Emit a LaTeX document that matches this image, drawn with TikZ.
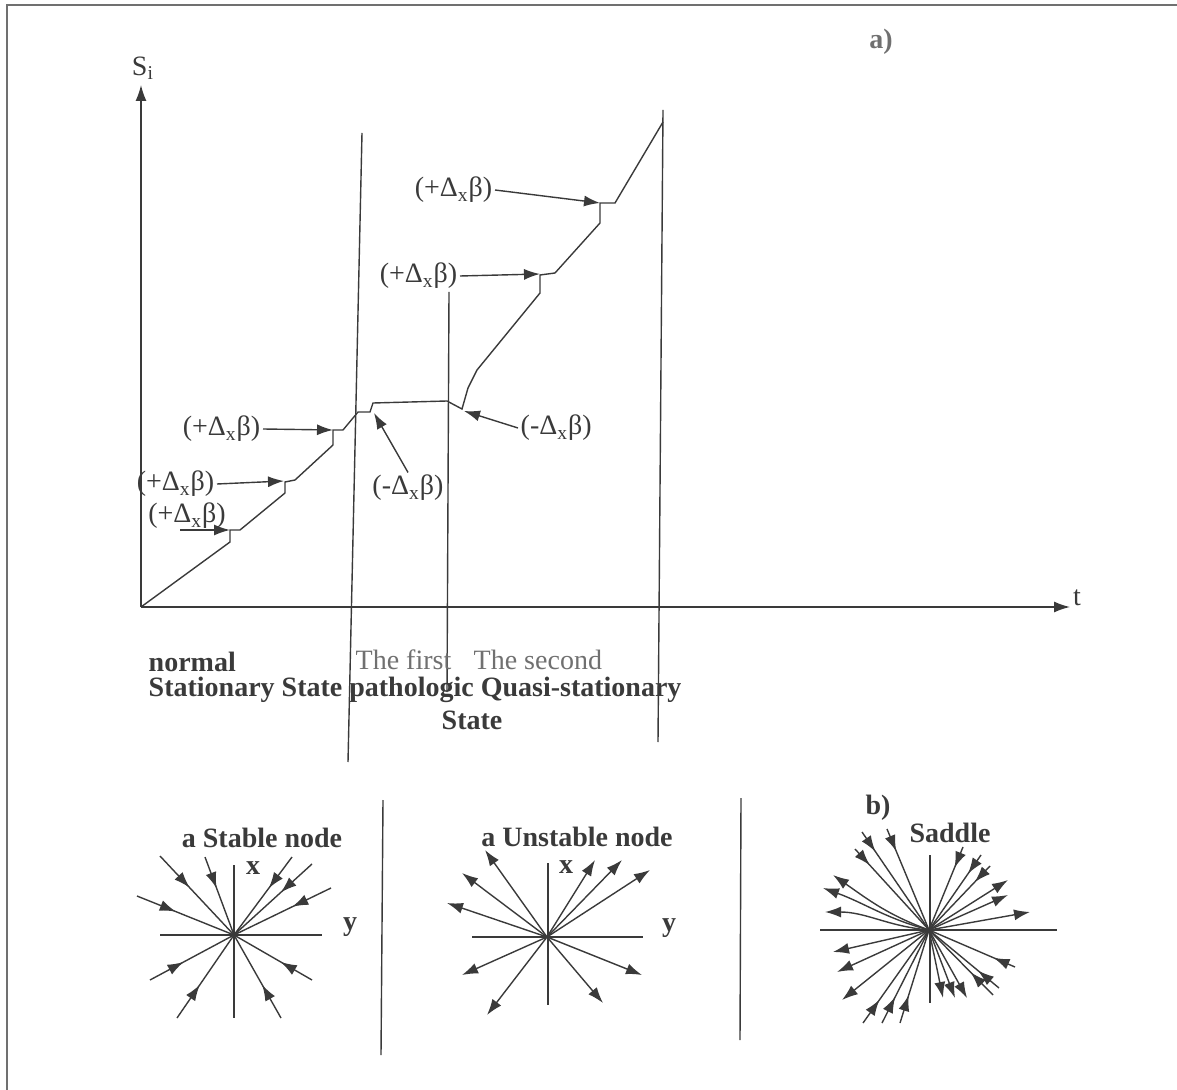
\documentclass[tikz,border=0pt]{standalone}
\usepackage{fontspec}
\setmainfont{Liberation Serif}
\usetikzlibrary{arrows.meta,decorations.markings}
\definecolor{InkGray}{HTML}{3A3A3A}
\definecolor{PaleInk}{HTML}{707070}

\tikzset{
  lbl/.style={font=\fontsize{14}{16}\selectfont,text=InkGray,inner sep=1pt},
  bflbl/.style={font=\fontsize{14}{16}\selectfont\bfseries,text=InkGray,inner sep=1pt},
  palelbl/.style={font=\fontsize{14}{16}\selectfont,text=PaleInk,inner sep=1pt},
  tip/.style={-{Latex[length=8pt,width=5.5pt]}},
  inray/.style={postaction={decorate},
    decoration={markings,mark=at position #1 with {\arrow{Latex[length=8pt,width=5.5pt]}}}},
  inray/.default=0.4
}

\begin{document}
\begin{tikzpicture}[x=0.5pt,y=-0.5pt,line width=0.7pt,color=InkGray]
  \useasboundingbox (0,0) rectangle (1177,1090);
  % scan frame
  \draw[line width=1.2pt,PaleInk] (7,1090) -- (7,5) -- (1177,5);

  % axes
  \coordinate (O) at (141,607);
  \coordinate (ytop) at (141,85);
  \coordinate (xend) at (1070,607);
  \draw[tip] (O) -- (ytop);
  \draw[tip] (O) -- (xend);
  \node[lbl] (ylab) at (143,68) {S\textsubscript{i}};
  \node[lbl] (xlab) at (1077,598) {t};
  \node[bflbl,text=PaleInk] (parta) at (881,42) {a)};

  % stage borders
  \draw (362,133) -- (348,762);
  \draw (449,292) -- (447,692);
  \draw (663,110) -- (658,742);

  % entropy staircase
  \draw (O) -- (230,542) -- (230,530) -- (240,530) -- (285,493) -- (285,482)
    -- (295,480) -- (333,445) -- (333,430) -- (343,430) -- (358,412) -- (370,412)
    -- (373,403) -- (447,401) -- (462,409) -- (468,388) -- (477,370) -- (540,293)
    -- (540,275) -- (555,273) -- (600,223) -- (600,203) -- (615,203) -- (663,122);

  % jumps
  \coordinate (stepA) at (333,430);
  \coordinate (stepB) at (284,481);
  \coordinate (stepC) at (230,530);
  \coordinate (startC) at (180,530);
  \coordinate (dropA) at (374,413);
  \coordinate (dropB) at (464,411);
  \coordinate (stepD) at (540,274);
  \coordinate (stepE) at (600,203);
  \node[lbl,anchor=east] (incA) at (263,429) {(+Δ\textsubscript{x}β)};
  \node[lbl,anchor=east] (incB) at (217,484) {(+Δ\textsubscript{x}β)};
  \node[lbl] (incC) at (187,516) {(+Δ\textsubscript{x}β)};
  \node[lbl] (decA) at (408,488) {(-Δ\textsubscript{x}β)};
  \node[lbl,anchor=west] (decB) at (518,428) {(-Δ\textsubscript{x}β)};
  \node[lbl,anchor=east] (incD) at (460,276) {(+Δ\textsubscript{x}β)};
  \node[lbl,anchor=east] (incE) at (495,190) {(+Δ\textsubscript{x}β)};
  \draw[tip] (incA.east) -- (stepA);
  \draw[tip] (incB.east) -- (stepB);
  \draw[tip] (startC) -- (stepC);
  \draw[tip] (decA.north) -- (dropA);
  \draw[tip] (decB.west) -- (dropB);
  \draw[tip] (incD.east) -- (stepD);
  \draw[tip] (incE.east) -- (stepE);

  % stage names
  \node[bflbl,anchor=west] (normal) at (146,662) {normal};
  \node[bflbl,anchor=west] (stages) at (146,690) {Stationary State pathologic Quasi-stationary};
  \node[bflbl] (state) at (472,720) {State};
  \node[palelbl,anchor=west] (first) at (353,660) {The first};
  \node[palelbl,anchor=west] (second) at (471,660) {The second};

  % separators
  \draw (383,800) -- (381,1055);
  \draw (741,798) -- (740,1040);

  % stable node
  \coordinate (sn) at (234,935);
  \draw (160,935) -- (322,935);
  \draw (234,865) -- (234,1018);
  \node[bflbl] (snname) at (262,838) {a Stable node};
  \node[bflbl] (snx) at (253,868) {x};
  \node[bflbl] (sny) at (350,927) {y};
  \foreach \x/\y in {160/856,205/857,292/857,312/864,331/888,137/896,150/980,177/1018,281/1018,312/980}
    \draw[inray] (\x,\y) -- (sn);

  % unstable node
  \coordinate (un) at (547,937);
  \draw (472,937) -- (643,937);
  \draw (548,863) -- (548,1005);
  \node[bflbl] (unname) at (577,837) {a Unstable node};
  \node[bflbl] (unx) at (566,867) {x};
  \node[bflbl] (uny) at (669,928) {y};
  \foreach \x/\y in {485/850,462/873,447/903,595/860,622/860,650/870,462/975,487/1015,603/1003,642/975}
    \draw[tip] (un) -- (\x,\y);

  % saddle
  \coordinate (sd) at (929,930);
  \draw (820,930) -- (1057,930);
  \draw (930,855) -- (930,1003);
  \node[bflbl] (partb) at (878,808) {b)};
  \node[bflbl] (sdname) at (950,833) {Saddle};
  \foreach \x/\y/\m in {862/832/0.2,887/829/0.22,855/849/0.2,963/847/0.25,981/855/0.25,990/866/0.25,
      863/1023/0.25,882/1023/0.28,900/1023/0.3,1015/967/0.25,999/988/0.3,993/995/0.35}
    \draw[inray=\m] (\x,\y) -- (sd);
  \foreach \x/\y in {1008/880,1008/895,1030/912,833/952,837/972,842/1000,943/998,955/998,967/998}
    \draw[tip] (sd) -- (\x,\y);
  \draw[tip] (sd) to[out=160,in=-35] (833,875);
  \draw[tip] (sd) to[out=165,in=-20] (823,888);
  \draw[tip] (sd) to[out=175,in=0] (825,912);
\end{tikzpicture}
\end{document}
